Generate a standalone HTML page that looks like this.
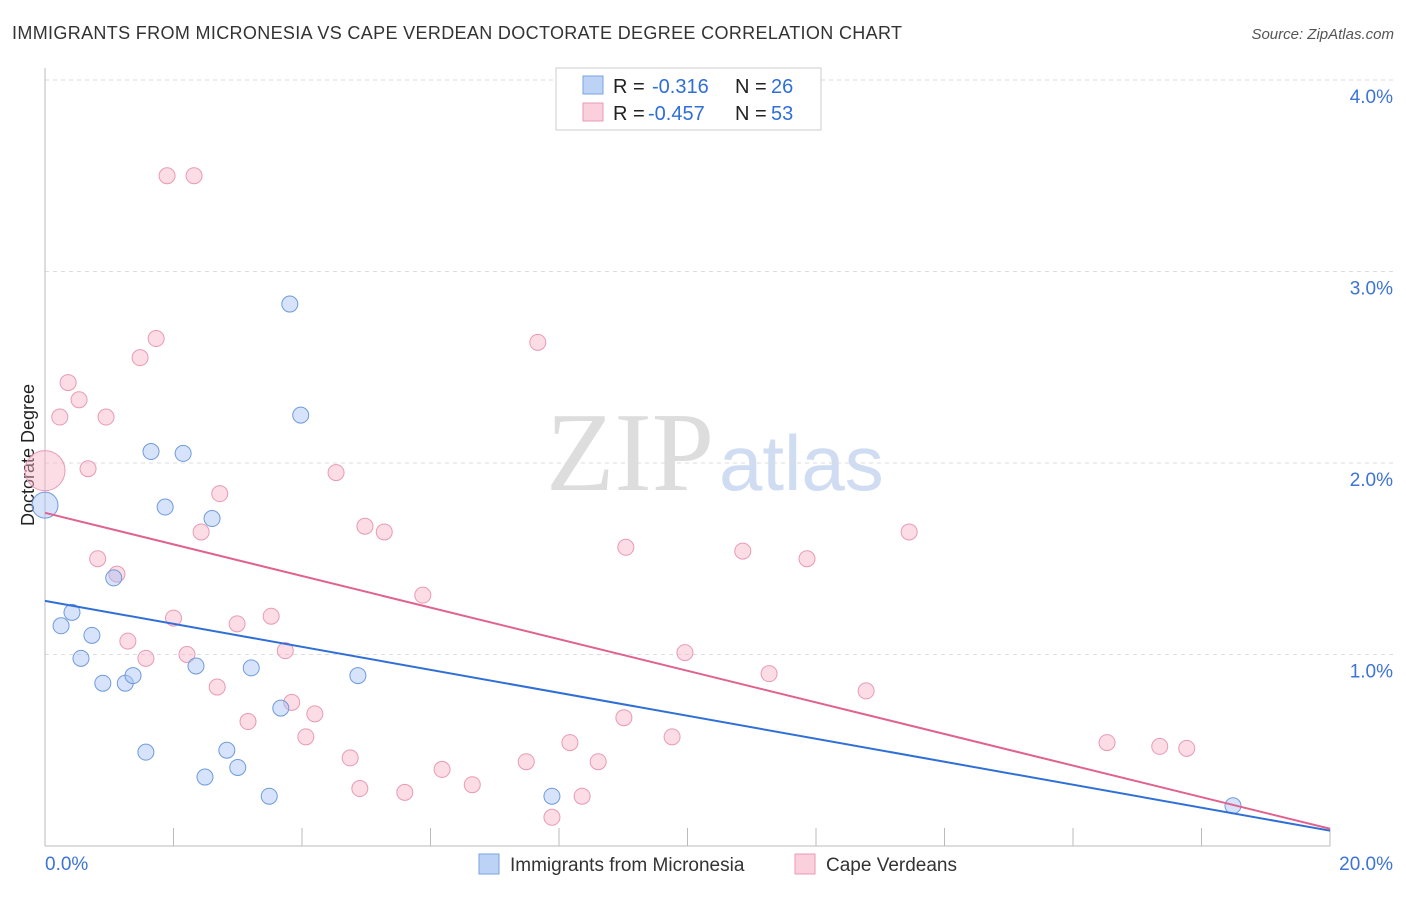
<!DOCTYPE html>
<html><head><meta charset="utf-8"><style>
body{margin:0;background:#fff;font-family:"Liberation Sans",sans-serif;}
svg text{font-family:"Liberation Sans",sans-serif;}
</style></head><body>
<svg id="c" width="1406" height="892">
<text x="12" y="39" font-size="18" fill="#333" textLength="890">IMMIGRANTS FROM MICRONESIA VS CAPE VERDEAN DOCTORATE DEGREE CORRELATION CHART</text>
<text x="1394" y="39" font-size="15" fill="#555" font-style="italic" text-anchor="end">Source: ZipAtlas.com</text>
<text x="714" y="490" font-size="112" fill="#ddd" text-anchor="end" style="font-family:'Liberation Serif',serif">ZIP</text>
<text x="719" y="490" font-size="78" fill="#cfdcf2">atlas</text>
<text transform="translate(34,455) rotate(-90)" font-size="18" fill="#222" text-anchor="middle">Doctorate Degree</text>
<g id="grid"></g><g id="pts"></g>
<g>
<rect x="556" y="68" width="265" height="62" fill="#fff" stroke="#ccc"/>
<rect x="583" y="76" width="20" height="18" fill="#bcd3f5" stroke="#7aa3e0"/>
<rect x="583" y="103" width="20" height="18" fill="#fbd0dd" stroke="#e99ab4"/>
<text x="613" y="93" font-size="20" fill="#222">R =</text>
<text x="652" y="93" font-size="20" fill="#2f6fd6">-0.316</text>
<text x="735" y="93" font-size="20" fill="#222">N =</text>
<text x="771" y="93" font-size="20" fill="#2f6fd6">26</text>
<text x="613" y="120" font-size="20" fill="#222">R =</text>
<text x="648" y="120" font-size="20" fill="#2f6fd6">-0.457</text>
<text x="735" y="120" font-size="20" fill="#222">N =</text>
<text x="771" y="120" font-size="20" fill="#2f6fd6">53</text>
</g>
<g>
<rect x="479" y="854" width="20" height="20" fill="#bcd3f5" stroke="#7aa3e0"/>
<text x="510" y="871" font-size="19" fill="#333">Immigrants from Micronesia</text>
<rect x="795" y="854" width="20" height="20" fill="#fbd0dd" stroke="#e99ab4"/>
<text x="826" y="871" font-size="19" fill="#333">Cape Verdeans</text>
</g>
</svg>
<script>
const xTicks=[0,20];
const yTicks=[1,2,3,4];
const blueX=[0,0.25,0.42,0.56,0.73,0.90,1.07,1.25,1.37,1.57,1.65,1.87,2.15,2.35,2.49,2.60,2.83,3.00,3.21,3.49,3.67,3.81,3.98,4.87,7.89,18.49];
const blueY=[1.78,1.15,1.22,0.98,1.10,0.85,1.40,0.85,0.89,0.49,2.06,1.77,2.05,0.94,0.36,1.71,0.50,0.41,0.93,0.26,0.72,2.83,2.25,0.89,0.26,0.21];
const pinkX=[0,0.23,0.36,0.53,0.67,0.82,0.95,1.12,1.29,1.48,1.57,1.73,1.90,2.00,2.21,2.32,2.43,2.68,2.72,2.99,3.16,3.52,3.74,3.84,4.06,4.20,4.53,4.75,4.90,4.98,5.28,5.60,5.88,6.18,6.65,7.49,7.67,7.89,8.17,8.36,8.61,9.01,9.04,9.76,9.96,10.86,11.27,11.86,12.78,13.45,16.53,17.35,17.77];
const pinkY=[1.96,2.24,2.42,2.33,1.97,1.50,2.24,1.42,1.07,2.55,0.98,2.65,3.50,1.19,1.00,3.50,1.64,0.83,1.84,1.16,0.65,1.20,1.02,0.75,0.57,0.69,1.95,0.46,0.30,1.67,1.64,0.28,1.31,0.40,0.32,0.44,2.63,0.15,0.54,0.26,0.44,0.67,1.56,0.57,1.01,1.54,0.90,1.50,0.81,1.64,0.54,0.52,0.51];
const blueTrend=[1.28,0.08];
const pinkTrend=[1.74,0.09];
const X=v=>45+v/20*1285, Y=v=>846-v*191.5;
const NS='http://www.w3.org/2000/svg';
function mk(t,a,p){const e=document.createElementNS(NS,t);for(const k in a)e.setAttribute(k,a[k]);p.appendChild(e);return e;}
const g=document.getElementById('grid'),P=document.getElementById('pts');
yTicks.forEach(t=>{const l=mk('line',{x1:45,x2:1394,y1:Y(t),y2:Y(t),stroke:'#ddd','stroke-dasharray':'4,4'},g);


const tx=mk('text',{x:1393,y:Y(t)+23,'font-size':19,fill:'#3d74d6','text-anchor':'end'},g);tx.textContent=t.toFixed(1)+'%';

});
mk('line',{x1:45,x2:45,y1:68,y2:846,stroke:'#bbb'},g);
mk('line',{x1:45,x2:1330,y1:846,y2:846,stroke:'#bbb'},g);
for(let i=0;i<=10;i++){mk('line',{x1:X(i*2),x2:X(i*2),y1:828,y2:846,stroke:'#bbb'},g);}
xTicks.forEach((t,i)=>{const tx=mk('text',{x:i?1393:45,y:870,'font-size':19,fill:'#3d74d6','text-anchor':i?'end':'start'},g);tx.textContent=t.toFixed(1)+'%';

});
function dots(xs,ys,f,s,name){xs.forEach((x,i)=>{const c=mk('circle',{cx:X(x),cy:Y(ys[i]),r:i===0?(name==='pink-point'?20:13):8,fill:f,stroke:s,'stroke-width':1},P);

});}
dots(pinkX,pinkY,'rgba(248,180,200,0.45)','#e99ab4','pink-point');
dots(blueX,blueY,'rgba(164,194,244,0.45)','#6f9bdc','blue-point');
const bl=mk('line',{x1:X(0),y1:Y(blueTrend[0]),x2:X(20),y2:Y(blueTrend[1]),stroke:'#2f6fd6','stroke-width':2},P);


const pl=mk('line',{x1:X(0),y1:Y(pinkTrend[0]),x2:X(20),y2:Y(pinkTrend[1]),stroke:'#e0628f','stroke-width':2},P);


</script>
</body></html>
